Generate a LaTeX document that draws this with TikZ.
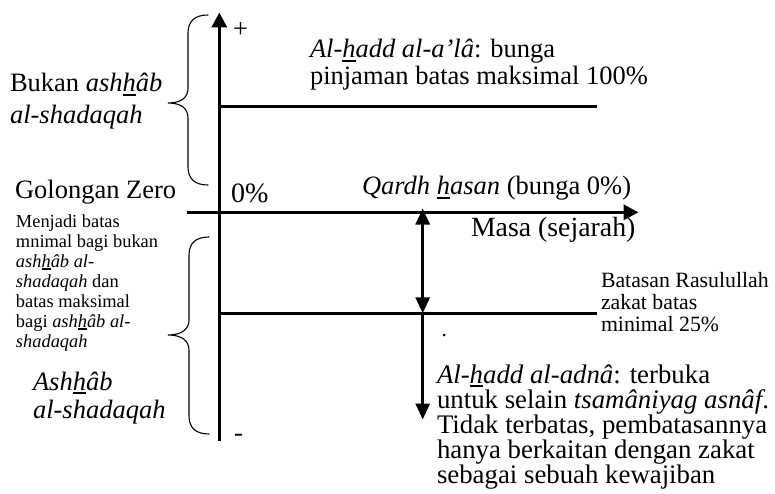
\documentclass[tikz,border=0pt]{standalone}
\usepackage{fontspec}
\setmainfont{Liberation Serif}
\usetikzlibrary{arrows.meta}
\newcommand\ulx[1]{\leavevmode\setbox0\hbox{#1}\rlap{\rule[-0.16em]{\wd0}{0.08em}}\box0}
\newcommand\fzBig{\fontsize{26.5}{31}\selectfont}
\newcommand\fzMain{\fontsize{26.5}{30}\selectfont}
\newcommand\fzMasa{\fontsize{27.8}{30}\selectfont}
\newcommand\fzAdna{\fontsize{26.8}{30}\selectfont}
\newcommand\fzSmall{\fontsize{18.4}{21}\selectfont}
\newcommand\fzBat{\fontsize{21.8}{24}\selectfont}
\newcommand\fzZero{\fontsize{28}{32}\selectfont}
\tikzset{
  axisline/.style={line width=3.4pt, -{Triangle[length=15pt,width=15pt]}},
  levelline/.style={line width=3.1pt},
  spanarrow/.style={line width=3pt, {Triangle[length=16pt,width=14pt]}-{Triangle[length=16pt,width=14pt]}},
  downarrow/.style={line width=3pt, -{Triangle[length=16pt,width=14pt]}},
  bracepath/.style={line width=1.1pt, line cap=round},
  lbl/.style={inner sep=0pt, outer sep=0pt, anchor=base west},
}
\begin{document}
\begin{tikzpicture}[x=1pt,y=-1pt]
\useasboundingbox (0,0) rectangle (775,494);
% coordinates
\coordinate (vbot) at (219.3,440.5);
\coordinate (vtop) at (219.3,12.5);
\coordinate (hleft) at (186.7,212.3);
\coordinate (hright) at (638.5,212.3);
\coordinate (upL) at (219.3,106.7);
\coordinate (upR) at (597,106.7);
\coordinate (loL) at (219.3,313.3);
\coordinate (loR) at (597,313.3);
\coordinate (spanT) at (422.7,208.5);
\coordinate (spanB) at (422.7,313.3);
\coordinate (dnS) at (422.7,313.3);
\coordinate (dnE) at (422.7,419.5);
% axes and levels
\draw[axisline] (vbot) -- (vtop);
\draw[axisline] (hleft) -- (hright);
\draw[levelline] (upL) -- (upR);
\draw[levelline] (loL) -- (loR);
\draw[spanarrow] (spanB) -- (spanT);
\draw[downarrow] (dnS) -- (dnE);
% braces
\draw[bracepath] (208,15) .. controls (195,15) and (188,21) .. (188,33) -- (188,88)
  .. controls (188,97) and (182,103) .. (168,103)
  .. controls (182,103) and (188,109) .. (188,118) -- (188,167)
  .. controls (188,179) and (195,185) .. (208,185);
\draw[bracepath] (209,237) .. controls (196,237) and (189,243) .. (189,255) -- (189,320)
  .. controls (189,329) and (182,335) .. (168,335)
  .. controls (182,335) and (189,341) .. (189,350) -- (189,416)
  .. controls (189,428) and (196,434) .. (209,434);
% texts
\node[lbl] (plus) at (233,38) {\fzMain +};
\node[lbl] (minus) at (234,441) {\fzMain -};
\node[lbl] (ala1) at (310,58) {\fzMain\textit{Al-\ulx{h}add al-a’lâ}: bunga};
\node[lbl] (ala2) at (310,85) {\fzMain pinjaman batas maksimal 100\%};
\node[lbl] (bukan1) at (10,92) {\fzBig Bukan \textit{ash\ulx{h}âb}};
\node[lbl] (bukan2) at (10,123.5) {\fzBig\textit{al-shadaqah}};
\node[lbl] (golzero) at (15,199) {\fzBig Golongan Zero};
\node[lbl] (zero) at (231,203) {\fzZero 0\%};
\node[lbl] (qardh) at (362,195) {\fzMain\textit{Qardh \ulx{h}asan} (bunga 0\%)};
\node[lbl] (masa) at (471,236) {\fzMasa Masa (sejarah)};
\node[lbl] (s1) at (16,227) {\fzSmall Menjadi batas};
\node[lbl] (s2) at (16,247) {\fzSmall mnimal bagi bukan};
\node[lbl] (s3) at (16,267) {\fzSmall\textit{ash\ulx{h}âb al-}};
\node[lbl] (s4) at (16,287) {\fzSmall\textit{shadaqah} dan};
\node[lbl] (s5) at (16,307) {\fzSmall batas maksimal};
\node[lbl] (s6) at (16,327) {\fzSmall bagi \textit{ash\ulx{h}âb al-}};
\node[lbl] (s7) at (16,347) {\fzSmall\textit{shadaqah}};
\node[lbl] (ash1) at (33,390) {\fzBig\textit{Ash\ulx{h}âb}};
\node[lbl] (ash2) at (33,418.5) {\fzBig\textit{al-shadaqah}};
\node[lbl] (bat1) at (601,287) {\fzBat Batasan Rasulullah};
\node[lbl] (bat2) at (601,309) {\fzBat zakat batas};
\node[lbl] (bat3) at (601,331) {\fzBat minimal 25\%};
\node[lbl] (dot) at (441.5,336) {\fzBat .};
\node[lbl] (ad1) at (437,383) {\fzAdna\textit{Al-\ulx{h}add al-adnâ}: terbuka};
\node[lbl] (ad2) at (437,408) {\fzAdna untuk selain \textit{tsamâniyag asnâf}.};
\node[lbl] (ad3) at (437,433) {\fzAdna Tidak terbatas, pembatasannya};
\node[lbl] (ad4) at (437,458) {\fzAdna hanya berkaitan dengan zakat};
\node[lbl] (ad5) at (437,483) {\fzAdna sebagai sebuah kewajiban};
\end{tikzpicture}
\end{document}
